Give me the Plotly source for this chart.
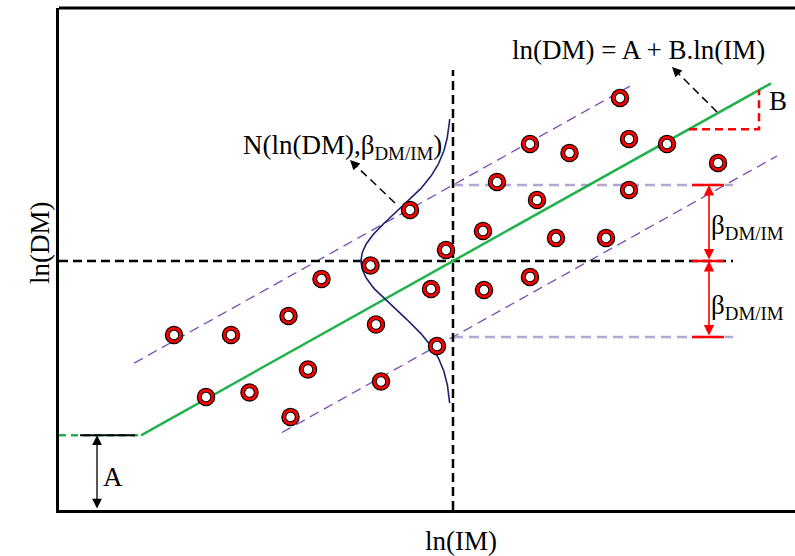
import numpy as np
import plotly.graph_objects as go

# Scatter of demand (DM) vs. intensity (IM) samples, log space
ln_im = [1.15, 1.72, 2.295, 2.625, 3.115, 3.51, 3.17, 1.47, 1.905, 2.49, 2.315,
         3.22, 3.78, 3.72, 3.87, 4.25, 4.24, 4.71, 4.38, 4.78, 4.71, 5.105,
         4.97, 5.47, 5.70, 5.70, 6.08, 5.61, 6.59]
ln_dm = [1.75, 1.75, 1.94, 2.31, 2.445, 3.00, 1.855, 1.13, 1.175, 1.405, 0.93,
         1.285, 1.64, 2.21, 2.60, 2.20, 2.79, 2.33, 3.28, 3.10, 3.66, 3.57,
         2.72, 2.72, 3.20, 3.71, 3.66, 4.12, 3.47]

# Regression parameters
IM_C = 3.94      # reference ln(IM)
DM_C = 2.49      # median ln(DM) at IM_C
SLOPE_B = 0.5587
BETA = 0.76      # dispersion beta_DM/IM
IM_KNEE = 0.82   # below this the fit is held constant (level A)
IM_END = 7.12

X_MAX, Y_MAX = 7.36, 5.02

GREEN = "#22b24c"
PURPLE = "#7b4bb3"
LILAC = "#b3a5cf"
NAVY = "#1d2270"
RED = "#ff0000"
FONT = "Liberation Serif"


def fit(x):
    return DM_C + SLOPE_B * (np.asarray(x) - IM_C)


A_LEVEL = float(fit(IM_KNEE))

fig = go.Figure()

# regression line and its flat start
fig.add_trace(go.Scatter(x=[0, IM_KNEE], y=[A_LEVEL, A_LEVEL], mode="lines",
                         line=dict(color=GREEN, width=2.5, dash="7px,5px")))
# reference segment showing level A
fig.add_trace(go.Scatter(x=[0.21, 0.76], y=[A_LEVEL, A_LEVEL], mode="lines",
                         line=dict(color="black", width=2)))

# +/- beta bands
xu = np.array([0.75, 5.71])
fig.add_trace(go.Scatter(x=xu, y=fit(xu) + BETA, mode="lines",
                         line=dict(color=PURPLE, width=1.3, dash="10px,6px")))
xl = np.array([2.23, 7.18])
fig.add_trace(go.Scatter(x=xl, y=fit(xl) - BETA, mode="lines",
                         line=dict(color=PURPLE, width=1.3, dash="10px,6px")))

# horizontal guides at median and median +/- beta
for lvl in (DM_C + BETA, DM_C - BETA):
    fig.add_trace(go.Scatter(x=[IM_C, 6.74], y=[lvl, lvl], mode="lines",
                             line=dict(color=LILAC, width=2.5, dash="10px,6px")))
fig.add_trace(go.Scatter(x=[0, 6.74], y=[DM_C, DM_C], mode="lines",
                         line=dict(color="black", width=2.5, dash="9px,5px")))
fig.add_trace(go.Scatter(x=[IM_C, IM_C], y=[0, 4.40], mode="lines",
                         line=dict(color="black", width=2.5, dash="9px,5px")))

# fitted line
xf = np.array([IM_KNEE, IM_END])
fig.add_trace(go.Scatter(x=xf, y=fit(xf), mode="lines",
                         line=dict(color=GREEN, width=2.5)))

# lognormal density of DM given IM
yy = np.linspace(DM_C - 1.42, DM_C + 1.42, 200)
xx = IM_C - 0.02 - 0.90 * np.exp(-(yy - DM_C) ** 2 / (2 * 0.49 ** 2))
fig.add_trace(go.Scatter(x=xx, y=yy, mode="lines", line=dict(color=NAVY, width=1.6)))

# slope triangle B
bx0, bx1 = 6.30, 7.00
fig.add_trace(go.Scatter(x=[bx0, bx1, bx1], y=[fit(bx0), fit(bx0), fit(bx1)],
                         mode="lines", line=dict(color=RED, width=2.5, dash="8px,5px")))

# red ticks for beta
for lvl in (DM_C + BETA, DM_C, DM_C - BETA):
    fig.add_trace(go.Scatter(x=[6.33, 6.65], y=[lvl, lvl], mode="lines",
                             line=dict(color=RED, width=2.5)))

# dashed leader lines
fig.add_trace(go.Scatter(x=[6.58, 6.17], y=[3.98, 4.39], mode="lines",
                         line=dict(color="black", width=1.5, dash="8px,5px")))
fig.add_trace(go.Scatter(x=[3.36, 2.95], y=[3.07, 3.46], mode="lines",
                         line=dict(color="black", width=1.5, dash="8px,5px")))

# sample markers: black-edged red rings
for size, col in ((18.5, "black"), (16, RED), (10.5, "black"), (8.5, "white")):
    fig.add_trace(go.Scatter(x=ln_im, y=ln_dm, mode="markers",
                             marker=dict(size=size, color=col, line=dict(width=0))))

ann = []
# arrowheads of the leader lines
ann.append(dict(x=6.13, y=4.43, ax=6.20, ay=4.36, xref="x", yref="y", axref="x", ayref="y",
                showarrow=True, arrowhead=2, arrowsize=1.3, arrowwidth=1.5, arrowcolor="black", text=""))
ann.append(dict(x=2.91, y=3.50, ax=2.98, ay=3.43, xref="x", yref="y", axref="x", ayref="y",
                showarrow=True, arrowhead=2, arrowsize=1.3, arrowwidth=1.5, arrowcolor="black", text=""))
# beta double arrows
for y0, y1 in ((DM_C, DM_C + BETA), (DM_C - BETA, DM_C)):
    ann.append(dict(x=6.50, y=y1, ax=6.50, ay=y0, xref="x", yref="y", axref="x", ayref="y",
                    showarrow=True, arrowhead=2, startarrowhead=2, arrowside="end+start",
                    arrowsize=1.3, startarrowsize=1.3, arrowwidth=1.6, arrowcolor=RED, text=""))
# A double arrow
ann.append(dict(x=0.38, y=A_LEVEL, ax=0.38, ay=0, xref="x", yref="y", axref="x", ayref="y",
                showarrow=True, arrowhead=2, startarrowhead=2, arrowside="end+start",
                arrowsize=1.5, startarrowsize=1.5, arrowwidth=1.3, arrowcolor="black", text=""))

txt = dict(family=FONT, size=27, color="black")
ann.append(dict(x=5.79, y=4.60, xref="x", yref="y", text="ln(DM) = A + B.ln(IM)",
                showarrow=False, font=txt))
ann.append(dict(x=2.83, y=3.63, xref="x", yref="y", text="N(ln(DM),β<sub>DM/IM</sub>)",
                showarrow=False, font=txt))
ann.append(dict(x=6.50, y=2.83, xref="x", yref="y", text="β<sub>DM/IM</sub>",
                showarrow=False, xanchor="left", font=txt))
ann.append(dict(x=6.50, y=2.03, xref="x", yref="y", text="β<sub>DM/IM</sub>",
                showarrow=False, xanchor="left", font=txt))
ann.append(dict(x=7.19, y=4.09, xref="x", yref="y", text="B", showarrow=False, font=txt))
ann.append(dict(x=0.54, y=0.33, xref="x", yref="y", text="A", showarrow=False, font=txt))
# axis titles
ann.append(dict(x=(461 - 59) / 736, y=0, xref="paper", yref="paper", yshift=-48,
                text="ln(IM)", showarrow=False, font=txt))
ann.append(dict(x=0, y=(510 - 243) / 502, xref="paper", yref="paper", xshift=-36,
                text="ln(DM)", textangle=-90, showarrow=False, font=txt))

fig.update_layout(
    width=795, height=556,
    margin=dict(l=59, r=0, t=8, b=46),
    paper_bgcolor="white", plot_bgcolor="white",
    showlegend=False,
    annotations=ann,
    shapes=[dict(type="line", xref="paper", yref="paper", x0=0, x1=1, y0=1, y1=1,
                 line=dict(color="black", width=3))],
    xaxis=dict(range=[0, X_MAX], showgrid=False, zeroline=False, showticklabels=False,
               ticks="", showline=True, linecolor="black", linewidth=3),
    yaxis=dict(range=[0, Y_MAX], showgrid=False, zeroline=False, showticklabels=False,
               ticks="", showline=True, linecolor="black", linewidth=3),
)

fig.write_html("out.html")
